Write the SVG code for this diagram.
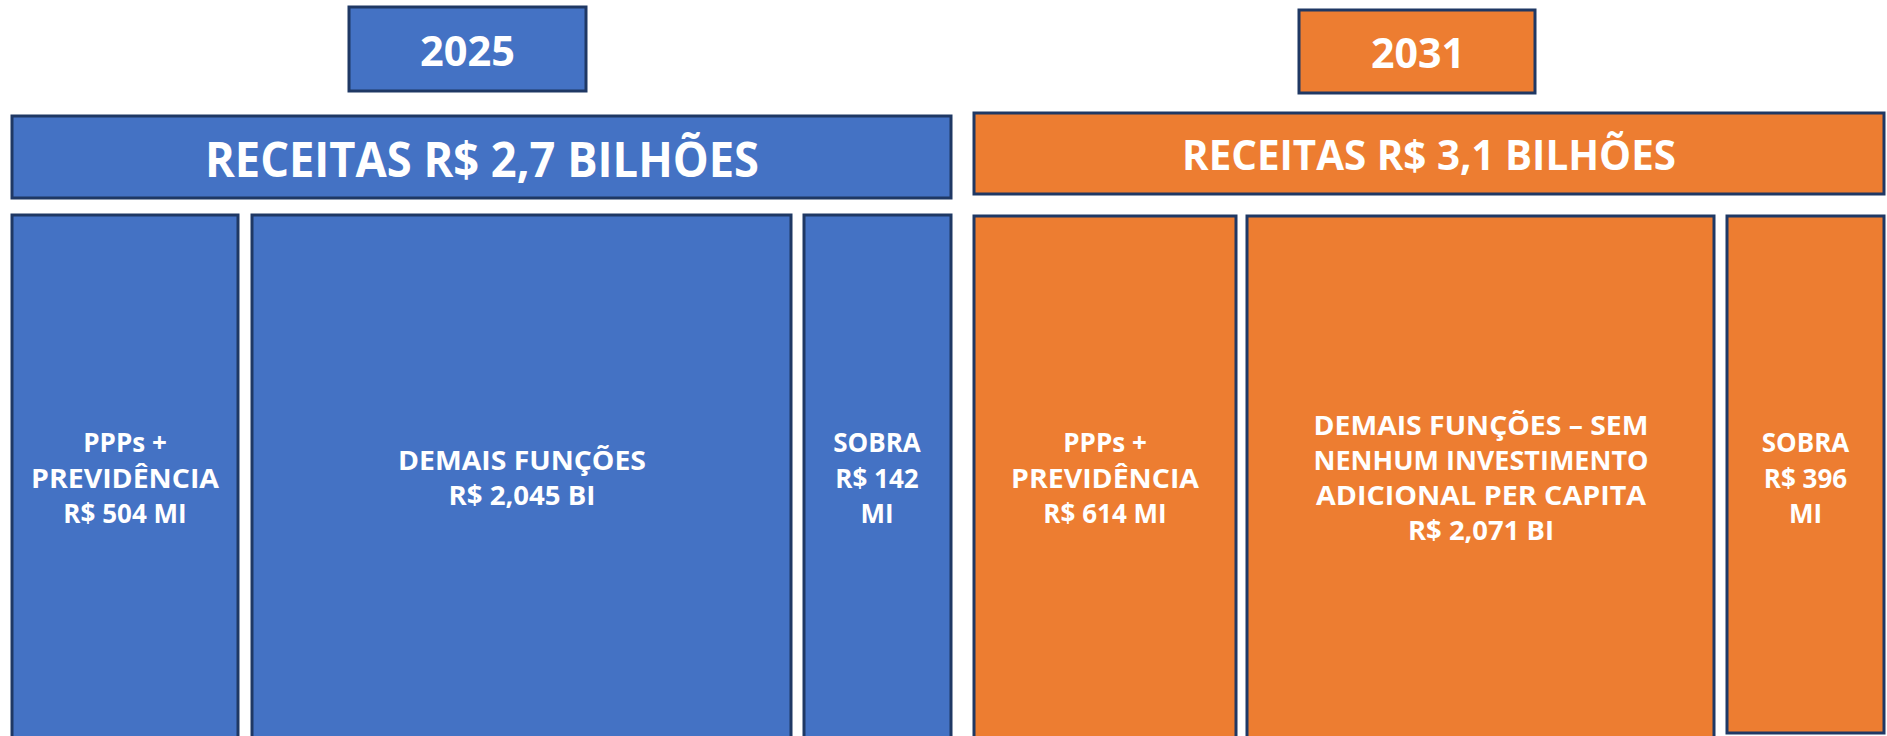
<svg xmlns="http://www.w3.org/2000/svg" width="1887" height="736" viewBox="0 0 1887 736">
<style>
.b{fill:#4472C4;stroke:#1F3864;stroke-width:3}
.o{fill:#ED7D31;stroke:#1F3864;stroke-width:3}
text{fill:#FFFFFF;font-family:"Open Sans","Liberation Sans",sans-serif;font-weight:bold;text-anchor:middle}
.yr{font-size:42px}
.hd{font-size:48px}
.hd2{font-size:42px}
.t{font-size:26px}
</style>
<rect width="1887" height="736" fill="#FFFFFF"/>
<g id="year2025">
<rect class="b" x="349" y="7" width="237" height="84"/>
<text class="yr" x="467.5" y="66" textLength="95" lengthAdjust="spacingAndGlyphs">2025</text>
</g>
<g id="year2031">
<rect class="o" x="1299" y="10" width="236" height="83"/>
<text class="yr" x="1418" y="68" textLength="94" lengthAdjust="spacingAndGlyphs">2031</text>
</g>
<g id="receitas2025">
<rect class="b" x="12" y="116" width="939" height="82"/>
<text class="hd" x="482" y="177" textLength="554" lengthAdjust="spacingAndGlyphs">RECEITAS R$ 2,7 BILHÕES</text>
</g>
<g id="receitas2031">
<rect class="o" x="974" y="113" width="910" height="81"/>
<text class="hd2" x="1429" y="170" textLength="494" lengthAdjust="spacingAndGlyphs">RECEITAS R$ 3,1 BILHÕES</text>
</g>
<g id="ppp2025">
<rect class="b" x="12" y="215" width="226" height="530"/>
<text class="t" x="125" y="452">PPPs +</text>
<text class="t" x="125" y="488" textLength="188" lengthAdjust="spacingAndGlyphs">PREVIDÊNCIA</text>
<text class="t" x="125" y="523">R$ 504 MI</text>
</g>
<g id="demais2025">
<rect class="b" x="252" y="215" width="539" height="530"/>
<text class="t" x="522" y="470" textLength="248" lengthAdjust="spacingAndGlyphs">DEMAIS FUNÇÕES</text>
<text class="t" x="522" y="505" textLength="147" lengthAdjust="spacingAndGlyphs">R$ 2,045 BI</text>
</g>
<g id="sobra2025">
<rect class="b" x="804" y="215" width="147" height="530"/>
<text class="t" x="877" y="452">SOBRA</text>
<text class="t" x="877" y="488">R$ 142</text>
<text class="t" x="877" y="523">MI</text>
</g>
<g id="ppp2031">
<rect class="o" x="974" y="216" width="262" height="530"/>
<text class="t" x="1105" y="452">PPPs +</text>
<text class="t" x="1105" y="488" textLength="188" lengthAdjust="spacingAndGlyphs">PREVIDÊNCIA</text>
<text class="t" x="1105" y="523">R$ 614 MI</text>
</g>
<g id="demais2031">
<rect class="o" x="1247" y="216" width="467" height="530"/>
<text class="t" x="1481" y="435" textLength="335" lengthAdjust="spacingAndGlyphs">DEMAIS FUNÇÕES – SEM</text>
<text class="t" x="1481" y="470" textLength="335" lengthAdjust="spacingAndGlyphs">NENHUM INVESTIMENTO</text>
<text class="t" x="1481" y="505" textLength="330" lengthAdjust="spacingAndGlyphs">ADICIONAL PER CAPITA</text>
<text class="t" x="1481" y="540" textLength="146" lengthAdjust="spacingAndGlyphs">R$ 2,071 BI</text>
</g>
<g id="sobra2031">
<rect class="o" x="1727" y="216" width="157" height="517"/>
<text class="t" x="1805.5" y="452">SOBRA</text>
<text class="t" x="1805.5" y="488">R$ 396</text>
<text class="t" x="1805.5" y="523">MI</text>
</g>
<g id="connectors"/>
</svg>
